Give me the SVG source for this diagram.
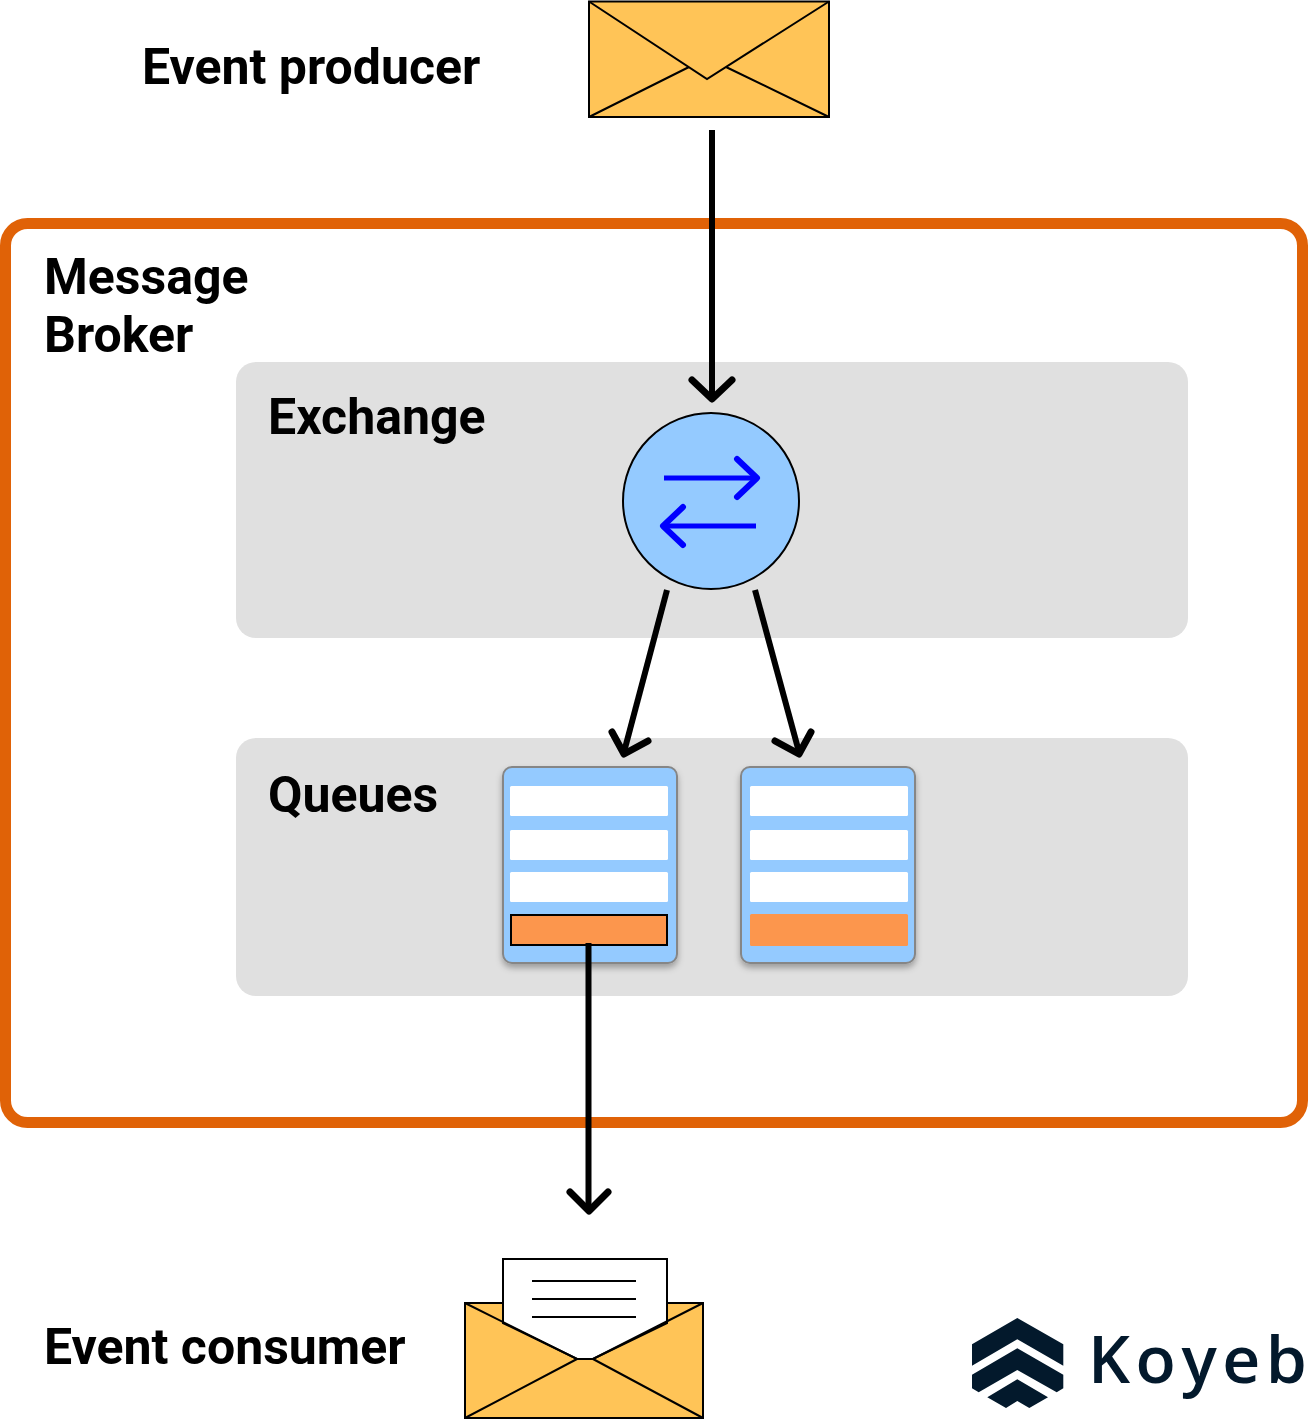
<svg xmlns="http://www.w3.org/2000/svg" width="1308" height="1420" viewBox="0 0 1308 1420">
<style>
.lbl{font-family:Roboto,"Liberation Sans",sans-serif;font-weight:700;font-size:50px;fill:#000}
.env{fill:#ffc457;stroke:#000;stroke-width:2}
.ln{fill:none;stroke:#000;stroke-width:2}
.zone{fill:#e0e0e0}
.conn{fill:none;stroke:#000;stroke-width:6;stroke-linecap:butt}
.head{fill:none;stroke:#000;stroke-width:7;stroke-linecap:round;stroke-linejoin:round}
.blue{fill:none;stroke:#0000ff;stroke-width:5;stroke-linecap:butt}
.bluehead{fill:none;stroke:#0000ff;stroke-width:6;stroke-linecap:round;stroke-linejoin:round}
.card{fill:#94caff;stroke:#868686;stroke-width:2;filter:url(#sh)}
.slot{fill:#fff}
.hot{fill:#fc964d}
.logo{fill:#03192c}
</style>
<defs>
<filter id="sh" x="-15%" y="-15%" width="130%" height="130%"><feDropShadow dx="0" dy="4" stdDeviation="3" flood-color="#000" flood-opacity="0.3"/></filter>
</defs>
<rect id="broker" x="5.500" y="223.500" width="1297" height="899" rx="22" fill="#fff" stroke="#e06207" stroke-width="11"/>
<text class="lbl" x="44" y="294">Message</text>
<text class="lbl" x="44" y="352">Broker</text>
<g id="exchange-zone"><rect class="zone" x="236" y="362" width="952" height="276" rx="20"/><text class="lbl" x="268" y="434">Exchange</text></g>
<g id="queues-zone"><rect class="zone" x="236" y="738" width="952" height="258" rx="20"/><text class="lbl" x="268" y="812">Queues</text></g>
<g id="producer">
<text class="lbl" x="142" y="84">Event producer</text>
<rect class="env" x="589" y="1.500" width="240" height="115.500"/>
<path class="ln" d="M589 1.500L707 79L829 1.500M589 117L689 67M829 117L726 67"/>
</g>
<g id="exchange">
<circle cx="711" cy="501" r="88" fill="#94caff" stroke="#000" stroke-width="2"/>
<path class="blue" d="M664 478H755M756 526H665"/>
<path class="bluehead" d="M737 459L757 478L737 497M683 507L663 526L683 545"/>
</g>
<g id="queue1">
<rect class="card" x="503" y="767" width="174" height="196" rx="9"/>
<rect class="slot" x="510" y="786" width="158" height="30" rx="1.500"/>
<rect class="slot" x="510" y="830" width="158" height="30" rx="1.500"/>
<rect class="slot" x="510" y="872" width="158" height="30" rx="1.500"/>
<rect class="hot" x="511" y="915" width="156" height="30" stroke="#000" stroke-width="2"/>
</g>
<g id="queue2">
<rect class="card" x="741" y="767" width="174" height="196" rx="9"/>
<rect class="slot" x="750" y="786" width="158" height="30" rx="1.500"/>
<rect class="slot" x="750" y="830" width="158" height="30" rx="1.500"/>
<rect class="slot" x="750" y="872" width="158" height="30" rx="1.500"/>
<rect class="hot" x="750" y="914" width="158" height="32" rx="1.500"/>
</g>
<g id="connectors">
<path class="conn" d="M712 130V396"/><path class="head" d="M692 380L712 399L732 380"/>
<path class="conn" d="M667 590L624 752"/><path class="head" d="M612 732L624 754L648 741"/>
<path class="conn" d="M755 590L799 752"/><path class="head" d="M775 741L799 754L811 732"/>
<path class="conn" d="M588.500 943V1208"/><path class="head" d="M570 1192L589 1211L608 1192"/>
</g>
<g id="consumer">
<text class="lbl" x="44" y="1364">Event consumer</text>
<rect class="env" x="465" y="1303" width="238" height="115"/>
<path d="M503 1259H667V1323L593 1359H577L503 1323Z" fill="#fff" stroke="#000" stroke-width="2"/>
<path class="ln" d="M532 1281H636M532 1299H636M532 1317H636"/>
<path class="ln" d="M465 1303L577 1359H593L703 1303M465 1418L577 1359M703 1418L593 1359"/>
</g>
<g id="logo">
<path class="logo" d="M1017.300 1318L1063.300 1344.300V1365.700L1017.300 1339.300L972 1365.700V1344.300Z"/>
<path class="logo" d="M1017.300 1348.300L1063.300 1374.700V1388.300L1056.700 1392.300L1017.300 1370L978.700 1392.300L972 1388.300V1374.700Z"/>
<path class="logo" d="M1017.300 1379.300L1048 1397.300L1029.300 1408L1017.300 1401L1006 1408L987.300 1397.300Z"/>
<text x="1088" y="1383" font-family="Open Sans,Noto Sans,sans-serif" font-size="66" font-weight="600" letter-spacing="5.500" fill="#03192c">Koye<tspan letter-spacing="0">b</tspan></text>
</g>
</svg>
